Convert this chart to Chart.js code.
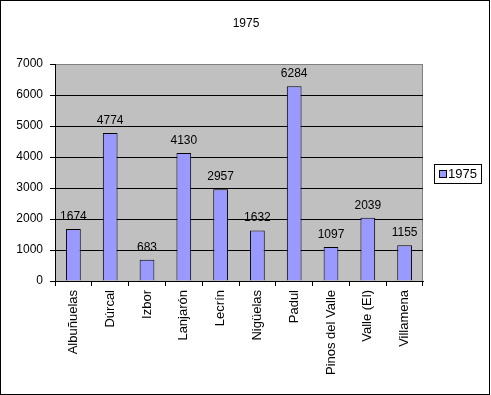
<!DOCTYPE html>
<html>
<head>
<meta charset="utf-8">
<script src="https://cdn.jsdelivr.net/npm/chart.js@4"></script>
<style>
html,body{margin:0;padding:0;background:#fff;}
canvas{display:block;}
</style>
</head>
<body>
<canvas id="c" width="491" height="395"></canvas>
<script>
const categories = ['Albuñuelas','Dúrcal','Izbor','Lanjarón','Lecrín','Nigüelas','Padul','Pinos del Valle','Valle (El)','Villamena'];
const values1975 = [1674, 4774, 683, 4130, 2957, 1632, 6284, 1097, 2039, 1155];
const seriesName = '1975';
const chartTitle = '1975';

const FONT = '"Liberation Sans", Arial, sans-serif';

const decor = {
  id: 'decor',
  beforeDraw(chart) {
    const {ctx, chartArea: a} = chart;
    ctx.save();
    ctx.fillStyle = '#ffffff';
    ctx.fillRect(0, 0, chart.width, chart.height);
    ctx.fillStyle = '#C0C0C0';
    ctx.fillRect(a.left, a.top, a.right - a.left, a.bottom - a.top);
    ctx.strokeStyle = '#808080';
    ctx.lineWidth = 1;
    ctx.strokeRect(Math.round(a.left) + 0.5, Math.round(a.top) + 0.5, Math.round(a.right - a.left) - 1, Math.round(a.bottom - a.top));
    ctx.restore();
  },
  afterDatasetsDraw(chart) {
    const {ctx} = chart;
    const meta = chart.getDatasetMeta(0);
    const ds = chart.data.datasets[0];
    ctx.save();
    ctx.fillStyle = '#000';
    ctx.font = '12px ' + FONT;
    ctx.textAlign = 'center';
    ctx.textBaseline = 'alphabetic';
    meta.data.forEach((bar, i) => {
      ctx.fillText(String(ds.data[i]), bar.x, bar.y - 9);
    });
    ctx.restore();
  },
  afterDraw(chart) {
    const {ctx} = chart;
    ctx.save();
    // title
    ctx.fillStyle = '#000';
    ctx.font = '12px ' + FONT;
    ctx.textAlign = 'center';
    ctx.textBaseline = 'middle';
    ctx.fillText(chartTitle, 246, 24);
    // legend
    ctx.strokeStyle = '#000';
    ctx.lineWidth = 1;
    ctx.fillStyle = '#fff';
    ctx.fillRect(434.5, 164.5, 47, 19);
    ctx.strokeRect(434.5, 164.5, 47, 19);
    ctx.fillStyle = '#9999FF';
    ctx.fillRect(439.5, 170.5, 7, 7);
    ctx.strokeRect(439.5, 170.5, 7, 7);
    ctx.fillStyle = '#000';
    ctx.font = '13px ' + FONT;
    ctx.textAlign = 'left';
    ctx.textBaseline = 'middle';
    ctx.fillText(chart.data.datasets[0].label, 448, 174.5);
    // outer border
    ctx.strokeRect(0.5, 0.5, 489, 394);
    ctx.restore();
  }
};

new Chart(document.getElementById('c'), {
  type: 'bar',
  data: {
    labels: categories,
    datasets: [{
      label: seriesName,
      data: values1975,
      backgroundColor: '#9999FF',
      borderColor: '#000000',
      borderWidth: 1,
      barPercentage: 0.8,
      categoryPercentage: 0.5
    }]
  },
  options: {
    responsive: false,
    animation: false,
    devicePixelRatio: 1,
    layout: { padding: { left: 0, right: 68, top: 64, bottom: 0 } },
    plugins: {
      legend: { display: false },
      tooltip: { enabled: false },
      title: { display: false }
    },
    scales: {
      x: {
        afterFit(s) { s.height = 114; },
        grid: {
          offset: true,
          drawOnChartArea: false,
          drawTicks: true,
          tickLength: 5,
          tickColor: '#000',
          color: '#000'
        },
        border: { display: true, color: '#000', width: 1 },
        ticks: {
          color: '#000',
          font: { family: FONT, size: 13 },
          minRotation: 90,
          maxRotation: 90,
          autoSkip: false,
          padding: 4
        }
      },
      y: {
        min: 0,
        max: 7000,
        afterFit(s) { s.width = 55; },
        grid: {
          color: (c) => (c.tick && c.tick.value === 7000) ? '#808080' : '#000',
          lineWidth: 1,
          drawTicks: true,
          tickLength: 5,
          tickColor: '#000'
        },
        border: { display: true, color: '#000', width: 1 },
        ticks: {
          stepSize: 1000,
          color: '#000',
          font: { family: FONT, size: 12 },
          padding: 7,
          callback: (v) => String(v)
        }
      }
    }
  },
  plugins: [decor]
});
</script>
</body>
</html>
